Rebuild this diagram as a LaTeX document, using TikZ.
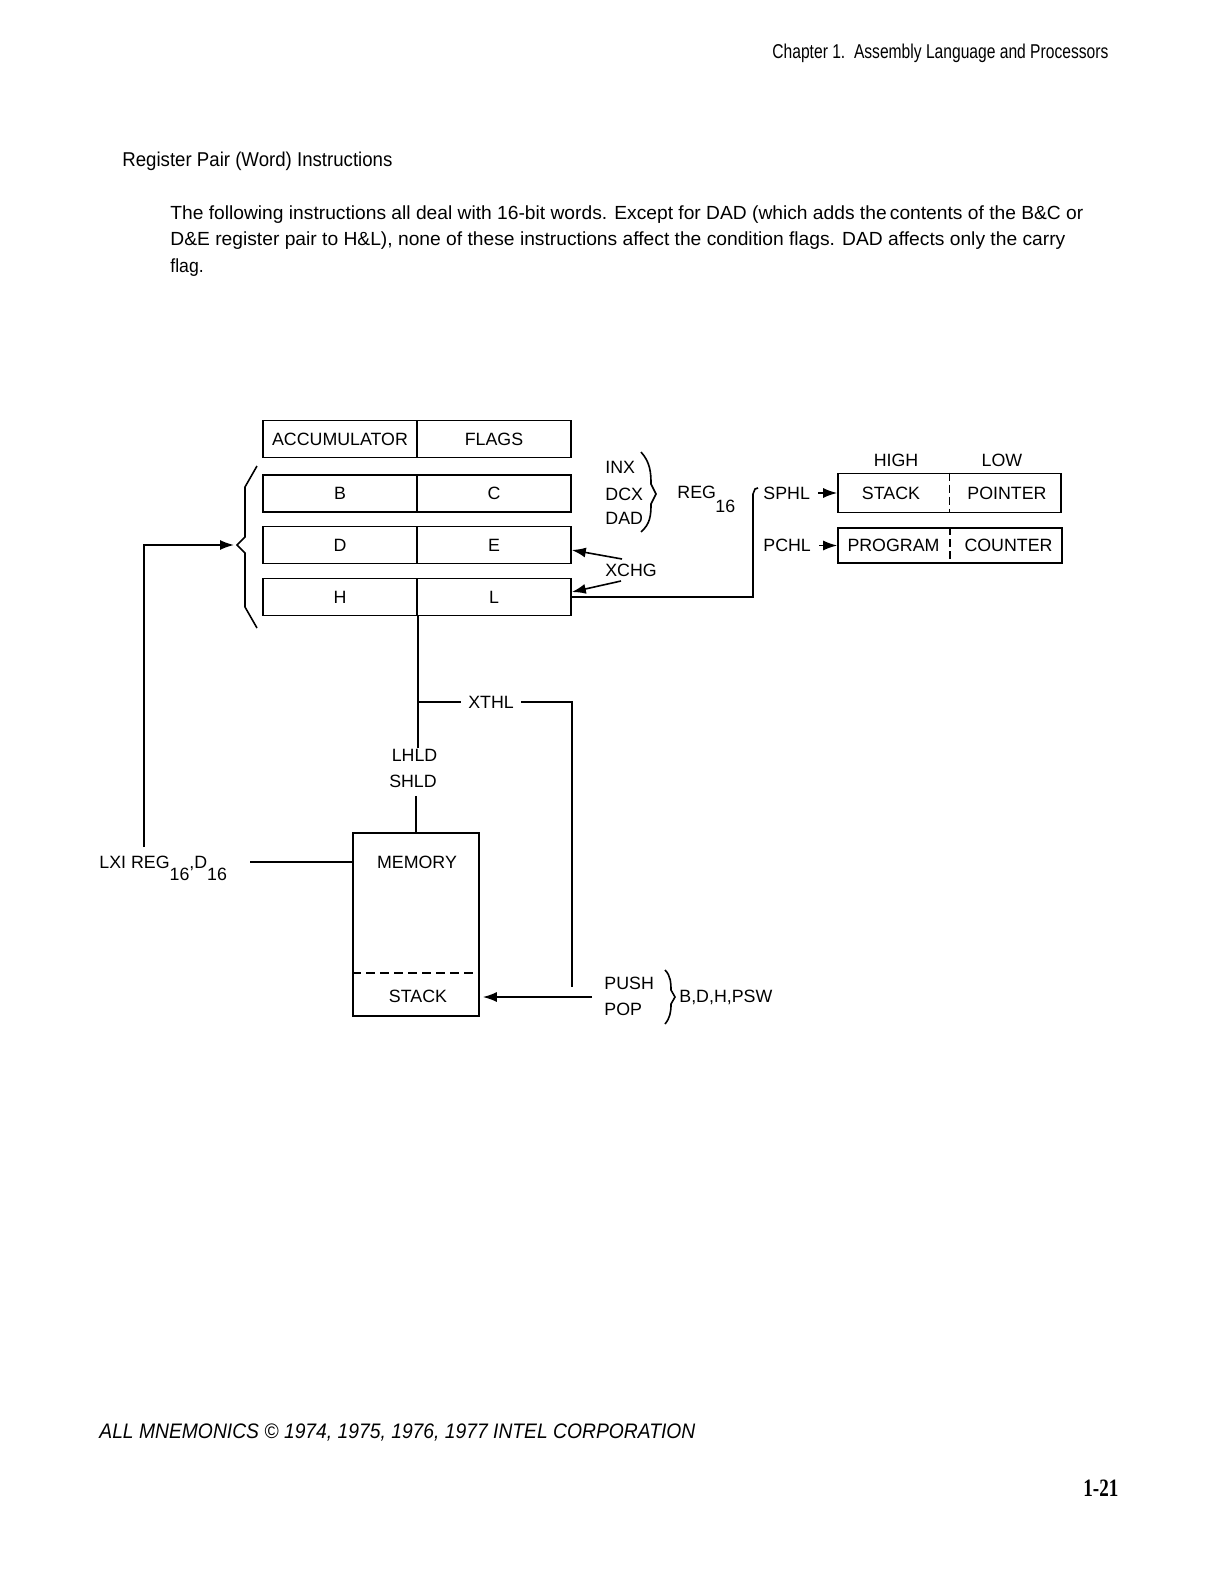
\documentclass[tikz,border=0pt]{standalone}
\usepackage{fontspec}
\usepackage{graphicx}
\setmainfont{Liberation Sans}
\newfontfamily\serifbf{Liberation Serif}
\usetikzlibrary{arrows.meta}
\newcommand\dgm{\fontsize{8.9}{11}\selectfont}
\newcommand\bodyf{\fontsize{9.5}{11}\selectfont}
\newcommand\headf{\fontsize{10}{12}\selectfont}
\newcommand\fitto[2]{\resizebox{#1}{\height}{#2}}
\newcommand\lowr[1]{\raisebox{-6pt}{#1}}
\begin{document}
\begin{tikzpicture}[x=0.5pt,y=-0.5pt,
  ln/.style={line width=0.8pt},
  arr/.style={line width=0.8pt,-{Latex[length=7pt,width=5pt]}},
  cell/.style={draw,line width=0.8pt,minimum width=77pt,minimum height=18.5pt,inner sep=0pt,font=\dgm,text height=6.4pt,text depth=0pt},
  lbl/.style={inner sep=0pt,font=\dgm,text height=6.4pt,text depth=0pt},
  txt/.style={inner sep=0pt,anchor=base west},
]
\useasboundingbox (0,0) rectangle (1224,1584);
\fill[white] (0,0) rectangle (1224,1584);

% page texts
\node[txt] (hdr) at (772,59) {\headf\fitto{168pt}{Chapter 1.\ \ Assembly Language and Processors}};
\node[txt] (sec) at (122,166) {\headf\fitto{135pt}{Register Pair (Word) Instructions}};
\node[txt] (p1) at (170,219) {\bodyf\fitto{456.5pt}{The following instructions all deal with 16-bit words. Except for DAD (which adds the\,contents of the B\&C or}};
\node[txt] (p2) at (170,245.5) {\bodyf\fitto{447.5pt}{D\&E register pair to H\&L), none of these instructions affect the condition flags. DAD affects only the carry}};
\node[txt] (p3) at (170,272.5) {\bodyf\fitto{16.7pt}{flag.}};
\node[txt] (foot) at (99,1438) {\fontsize{10.5}{12}\selectfont\itshape\fitto{298pt}{ALL MNEMONICS \textcopyright\ 1974, 1975, 1976, 1977 INTEL CORPORATION}};
\node[txt] (pg) at (1083,1496) {\serifbf\bfseries\fontsize{12.5}{14}\selectfont\fitto{17.5pt}{1-21}};

% register file
\node[cell] (A) at (340,439) {ACCUMULATOR};
\node[cell] (F) at (494,439) {FLAGS};
\node[cell] (B) at (340,493.5) {B};
\node[cell] (C) at (494,493.5) {C};
\node[cell] (D) at (340,545) {D};
\node[cell] (E) at (494,545) {E};
\node[cell] (H) at (340,597) {H};
\node[cell] (L) at (494,597) {L};

% left brace
\draw[ln] (257,466) -- (245,487) -- (245,537) -- (237,545) -- (245,553) -- (245,607) -- (257,628);
\coordinate (bt) at (234,545);
\coordinate (lxiup) at (144,847);
\draw[arr] (lxiup) |- (bt);

% INX DCX DAD
\node[lbl,anchor=west] (inx) at (605,467) {INX};
\node[lbl,anchor=west] (dcx) at (605,494) {DCX};
\node[lbl,anchor=west] (dad) at (605,518) {DAD};
\draw[ln] (641,452) .. controls (650,462) and (651,472) .. (651,484) -- (656,494) -- (651,504) .. controls (651,516) and (650,524) .. (641,532);
\node[lbl,anchor=west] (reg) at (677,492) {REG};
\node[lbl,anchor=west] (reg16) at (715,506) {16};

% XCHG
\node[lbl] (xchg) at (631,570) {XCHG};
\coordinate (xa) at (622,559);
\coordinate (xb) at (621,581);
\draw[arr] (xa) -- ([yshift=-2.5pt]E.east);
\draw[arr] (xb) -- ([yshift=2.5pt]L.east);

% SP / PC
\node[lbl] (high) at (896,460) {HIGH};
\node[lbl] (low) at (1002,460) {LOW};
\node[draw,line width=0.8pt,minimum width=111.5pt,minimum height=19.5pt,inner sep=0pt] (sp) at (949.5,493) {};
\node[draw,line width=0.8pt,minimum width=112pt,minimum height=17.5pt,inner sep=0pt] (pc) at (950,545.5) {};
\draw[line width=0.8pt,dash pattern=on 4pt off 2pt] (sp.north) -- (sp.south);
\draw[line width=0.8pt,dash pattern=on 4pt off 2pt] (pc.north) -- (pc.south);
\node[lbl] (spt1) at (891,493) {STACK};
\node[lbl] (spt2) at (1007,493) {POINTER};
\node[lbl] (pct1) at (893.5,545.5) {PROGRAM};
\node[lbl] (pct2) at (1008.5,545.5) {COUNTER};
\node[lbl,anchor=west] (sphl) at (763,493) {SPHL};
\node[lbl,anchor=west] (pchl) at (763,545.5) {PCHL};
\draw[arr] ([xshift=4pt]sphl.east) -- (sp.west);
\draw[arr] ([xshift=4pt]pchl.east) -- (pc.west);
\coordinate (hook) at (753,494);
\draw[ln] (L.east) -| (hook) -- (755,489) -- (758,488);

% XTHL, LHLD/SHLD
\node[lbl,inner xsep=3.5pt] (xthl) at (491,702) {XTHL};
\node[lbl] (lhld) at (414.5,755) {LHLD};
\node[lbl] (shld) at (413,781) {SHLD};
\coordinate (xthlend) at (572,987);
\draw[ln] (H.south east) -- (H.south east |- lhld.north);
\draw[ln] (xthl.west) -- (xthl.west -| H.south east);
\draw[ln] (xthl.east) -| (xthlend);

% memory
\node[draw,line width=0.8pt,minimum width=63pt,minimum height=91.5pt,inner sep=0pt] (mem) at (416,924.5) {};
\draw[ln] ([yshift=-4pt]mem.north |- shld.south) -- (mem.north);
\draw[line width=0.8pt,dash pattern=on 4.5pt off 2.5pt] (mem.west |- 0,973) -- (mem.east |- 0,973);
\node[lbl] (memt) at (417,862) {MEMORY};
\node[lbl] (stk) at (418,996) {STACK};

% LXI
\node[txt,font=\dgm] (lxi) at (99,868) {LXI REG\lowr{16},D\lowr{16}};
\coordinate (lxiend) at (250,862);
\draw[ln] (lxiend) -- (mem.west |- lxiend);

% PUSH / POP
\node[lbl,anchor=west] (push) at (604,983) {PUSH};
\node[lbl,anchor=west] (pop) at (604,1009) {POP};
\coordinate (pushend) at (592,997);
\draw[arr] (pushend) -- ([xshift=1.5pt]mem.east |- pushend);
\draw[ln] (665,970) .. controls (671,976) and (671,984) .. (671,990) -- (675,997) -- (671,1004) .. controls (671,1012) and (670,1018) .. (665,1024);
\node[lbl,anchor=west] (bdh) at (679,996) {B,D,H,PSW};
\end{tikzpicture}
\end{document}
